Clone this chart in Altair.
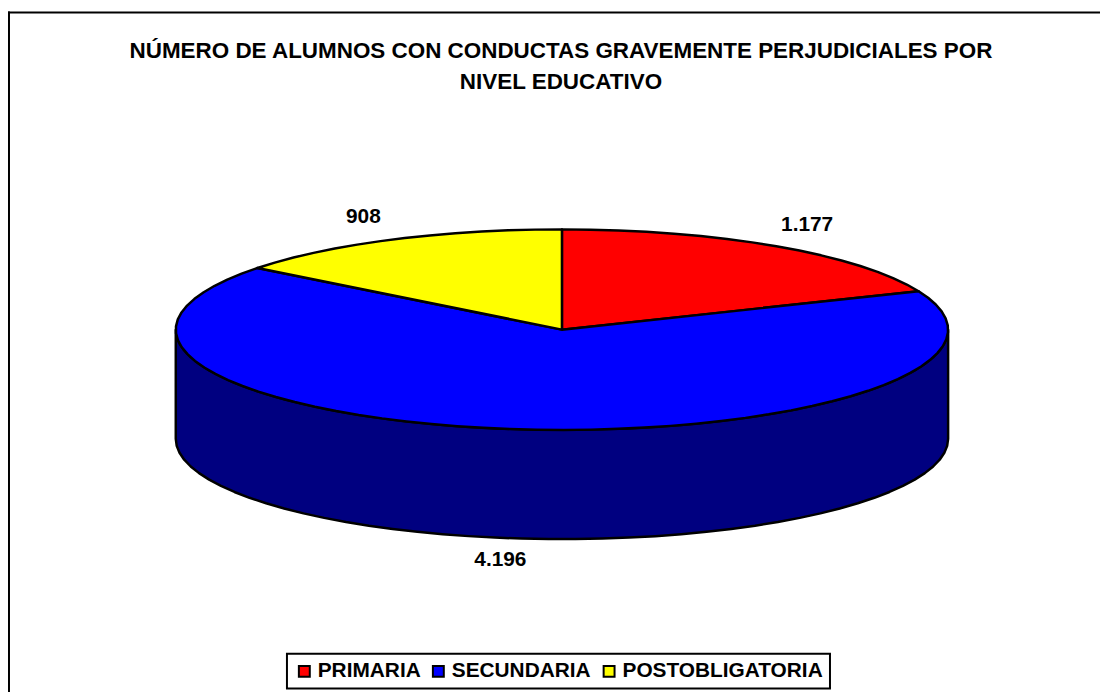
import math
import altair as alt

# Data
categories = ["PRIMARIA", "SECUNDARIA", "POSTOBLIGATORIA"]
values = [1177, 4196, 908]
value_labels = ["1.177", "4.196", "908"]
colors = ["#FF0000", "#0000FF", "#FFFF00"]
side_color = "#000080"

# Layout (page pixels)
PAD_TOP = 100
OFF_X, OFF_Y = -8, -8 - PAD_TOP
CX, CY, RX, RY, DEPTH = 566, 329.5, 389, 101, 110
label_x = [813, 504, 366]
label_y = [224, 562, 216]


def pt(deg, dy=0):
    a = math.radians(deg)
    return [CX + RX * math.sin(a), CY - RY * math.cos(a) + dy]


def arc(a0, a1, dy=0):
    n = max(2, int(abs(a1 - a0) / 4))
    return [pt(a0 + (a1 - a0) * i / n, dy) for i in range(n + 1)]


def feature(ring, **props):
    return {"type": "Feature", "properties": props,
            "geometry": {"type": "Polygon", "coordinates": [ring + [ring[0]]]}}


total = sum(values)
slices, a = [], 0.0
for c, v in zip(categories, values):
    b = a + 360 * v / total
    slices.append(feature([[CX, CY]] + arc(a, b), category=c))
    a = b
side = [feature(arc(90, 270) + arc(270, 90, DEPTH), category="side")]

proj = dict(type="identity", scale=1, translate=[OFF_X, OFF_Y])

side_layer = alt.Chart(alt.Data(values=side)).mark_geoshape(
    fill=side_color, stroke="black", strokeWidth=2.5, strokeJoin="round"
).project(**proj)

top_layer = alt.Chart(alt.Data(values=slices)).mark_geoshape(
    stroke="black", strokeWidth=2.5, strokeJoin="round"
).encode(
    color=alt.Color(
        "properties.category:N",
        scale=alt.Scale(domain=categories, range=colors),
        sort=categories,
        legend=alt.Legend(
            title=None, orient="none", legendX=281, legendY=548,
            direction="horizontal", columns=3, symbolType="square", symbolSize=121,
            symbolStrokeColor="black", symbolStrokeWidth=2, symbolOpacity=1,
            labelFont="Liberation Sans", labelFontWeight="bold", labelFontSize=21,
            labelColor="black", labelLimit=300,
            fillColor="white", strokeColor="black", padding=7, columnPadding=7,
            symbolOffset=0, labelOffset=3,
        ),
    )
).project(**proj)

label_data = [{"t": t, "lon": x, "lat": y} for t, x, y in zip(value_labels, label_x, label_y)]
text_layer = alt.Chart(alt.Data(values=label_data)).mark_text(
    font="Liberation Sans", fontWeight="bold", fontSize=21, color="black"
).encode(longitude="lon:Q", latitude="lat:Q", text="t:N").project(**proj)

frame_left = alt.Chart(alt.Data(values=[{"a": 0}])).mark_rule(color="black", strokeWidth=2).encode(
    x=alt.value(1), y=alt.value(-99), y2=alt.value(590))
frame_top = alt.Chart(alt.Data(values=[{"a": 0}])).mark_rule(color="black", strokeWidth=2).encode(
    y=alt.value(-98), x=alt.value(0), x2=alt.value(1100))

chart = alt.layer(side_layer, top_layer, text_layer, frame_left, frame_top).properties(
    width=1100, height=584,
    padding={"left": 0, "top": PAD_TOP, "right": 0, "bottom": 0},
    autosize=alt.AutoSizeParams(type="none"),
    title=alt.TitleParams(
        text=["NÚMERO DE ALUMNOS CON CONDUCTAS GRAVEMENTE PERJUDICIALES POR", "NIVEL EDUCATIVO"],
        font="Liberation Sans", fontWeight="bold", fontSize=22.6, lineHeight=32,
        color="black", anchor="middle", frame="group", offset=-84, dx=7,
    ),
).configure_view(stroke=None).configure_legend(strokeWidth=2)

chart.save("out.html", embed_options={"renderer": "svg", "actions": False})
